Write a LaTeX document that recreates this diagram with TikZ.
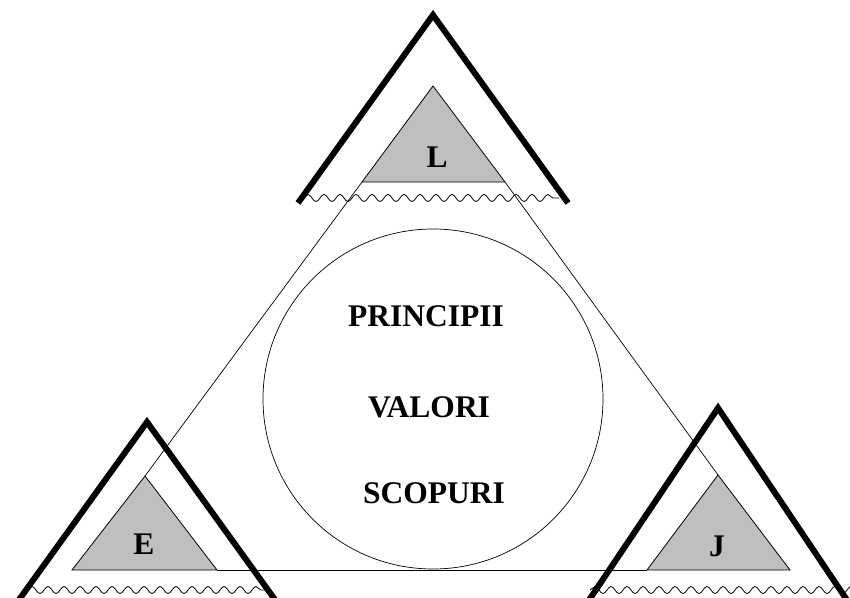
\documentclass[tikz,border=0pt]{standalone}
\usepackage{fontspec}
\setmainfont{Liberation Serif}
\usetikzlibrary{decorations.pathmorphing}

\begin{document}
\begin{tikzpicture}[x=1pt, y=-1pt,
				outer/.style={line width=6pt, line join=miter},
				inner/.style={draw, fill=gray!50, line width=0.8pt},
				thinline/.style={line width=0.7pt},
				wave/.style={decorate, decoration={snake, amplitude=3.5pt, segment length=16pt}, line width=0.8pt},
				lbl/.style={font=\fontsize{31.5}{36}\selectfont\bfseries, inner sep=0pt}]
				% Bildbereich
				\useasboundingbox (0,0) rectangle (850,597);
				\clip (0,0) rectangle (850,597);
				% Ecken der inneren Dreiecke
				\coordinate (Ltop) at (433,86);
				\coordinate (Lleft) at (362,182);
				\coordinate (Lright) at (505,182);
				\coordinate (Etop) at (145,476);
				\coordinate (Eleft) at (72,570);
				\coordinate (Eright) at (217,570);
				\coordinate (Jtop) at (718,475);
				\coordinate (Jleft) at (647,570);
				\coordinate (Jright) at (790,570);
				% Verbindungen
				\draw[thinline] (Lleft) -- (Etop);
				\draw[thinline] (Lright) -- (Jtop);
				\draw[thinline] (Eright) -- (Jleft);
				% Kreis mit Text
				\node[draw, circle, thinline, minimum size=340pt, inner sep=0pt] (kreis) at (433,399) {};
				\node[lbl] (principii) at (426,316) {PRINCIPII};
				\node[lbl] (valori) at (429,407) {VALORI};
				\node[lbl] (scopuri) at (434,493) {SCOPURI};
				% innere Dreiecke
				\filldraw[inner] (Ltop) -- (Lleft) -- (Lright) -- cycle;
				\filldraw[inner] (Etop) -- (Eleft) -- (Eright) -- cycle;
				\filldraw[inner] (Jtop) -- (Jleft) -- (Jright) -- cycle;
				\node[lbl] (L) at (437,157) {L};
				\node[lbl] (E) at (144,544) {E};
				\node[lbl] (J) at (717,546) {J};
				% Wellenlinien
				\draw[wave] (303,198) -- (559,198);
				\draw[wave] (27,590) -- (267,590);
				\draw[wave] (590,590) -- (862,590);
				% aeussere Dreiecke
				\draw[outer] (298,203) -- (433,15) -- (568,203);
				\draw[outer] (8,615) -- (147,422) -- (286,615);
				\draw[outer] (579,615) -- (718,408) -- (857,615);
\end{tikzpicture}
\end{document}
